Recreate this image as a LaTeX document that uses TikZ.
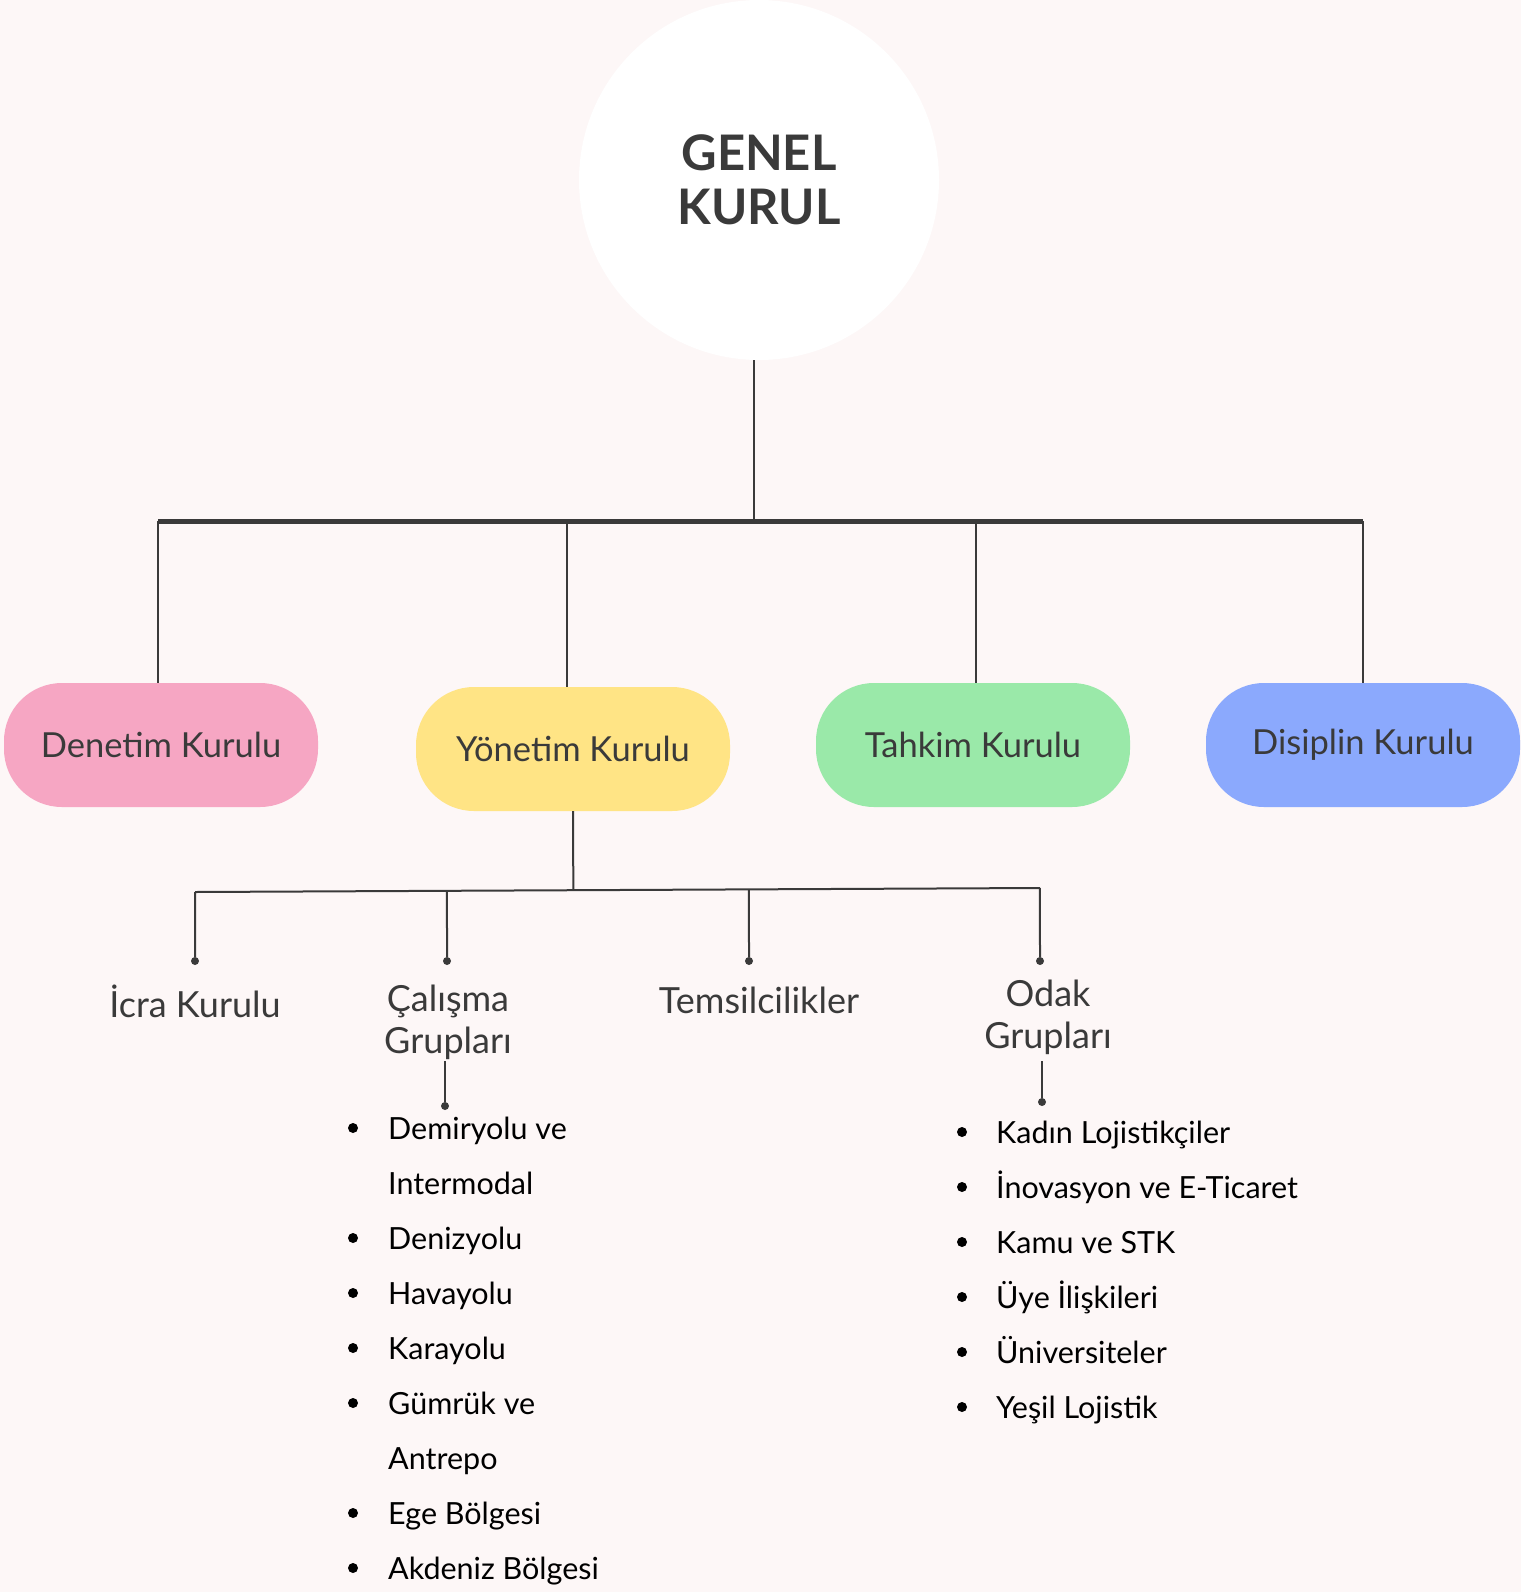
\documentclass[tikz,border=0pt]{standalone}
\usepackage{fontspec}
\setmainfont{Lato}
\usetikzlibrary{calc}

\definecolor{paper}{HTML}{FDF7F7}
\definecolor{ink}{HTML}{3A3A3A}
\definecolor{pinkkurul}{HTML}{F6A6C3}
\definecolor{yellowkurul}{HTML}{FFE485}
\definecolor{greenkurul}{HTML}{9AE9A9}
\definecolor{bluekurul}{HTML}{8BA9FD}

\begin{document}
\begin{tikzpicture}[x=1pt,y=-1pt,
     kurul/.style={rectangle,rounded corners=58pt,minimum width=314pt,minimum height=124pt,
        text=ink,font=\fontsize{34.5}{40}\selectfont},
     altkurul/.style={text=ink,align=center,anchor=base,font=\fontsize{36}{42}\selectfont},
     madde/.style={anchor=base west,inner sep=0pt,text=black,font=\fontsize{30.5}{34}\selectfont},
     hat/.style={ink,line width=2pt},
     uc/.style={circle,fill=ink,inner sep=0pt,minimum size=8pt}
     ]
%Background of the page
\fill[paper] (0,0) rectangle (1521,1592);
\useasboundingbox (0,0) rectangle (1521,1592);

%Top circle
\node[circle,fill=white,minimum size=360pt,text=ink,align=center,
      font=\fontsize{49}{54}\selectfont\bfseries] (genel) at (759,180) {GENEL\\KURUL};

%Main bar
\def \bary{521}
\coordinate (barL) at (158,\bary);
\coordinate (barR) at (1363,\bary);
\draw[ink,line width=5pt] (barL) -- (barR);
\draw[hat] ($(genel.south)+(-5,0)$) -- ($(genel.south |- barL)+(-5,0)$);

%The four boards
\foreach \nm/\x/\y/\dx/\c/\t in {denetim/161/745/158/pinkkurul/Denetim Kurulu,
                                 yonetim/573/749/567/yellowkurul/Yönetim Kurulu,
                                 tahkim/973/745/976/greenkurul/Tahkim Kurulu,
                                 disiplin/1363/745/1363/bluekurul/Disiplin Kurulu}
{
   \node[kurul,fill=\c] (\nm) at (\x,\y) {\t};
   \draw[hat] (\nm.north -| \dx,0) -- (\dx,\bary);
}

%Second level under Yonetim Kurulu
\def \doty{961}
\coordinate (hubL) at (195,892);
\coordinate (hubR) at (1040,888);
\draw[hat] (yonetim.south) -- ($(hubL)!(yonetim.south)!(hubR)$);
\draw[hat] (hubL) -- (hubR);

%label y is the baseline of the last line
\foreach \nm/\dx/\x/\ly/\t in {icra/195/195/1017/İcra Kurulu,
                               calisma/447/448/1053/Çalışma\\Grupları,
                               temsil/749/759/1013/Temsilcilikler,
                               odak/1040/1048/1048/Odak\\Grupları}
{
   \coordinate (\nm top) at ($(hubL)!(\dx,890)!(hubR)$);
   \node[uc] (\nm dot) at (\dx,\doty) {};
   \draw[hat] (\nm top) -- (\nm dot);
   \node[altkurul] (\nm) at (\x,\ly) {\t};
}

%Lists under the groups
\node[uc] (calismadot2) at (445,1106) {};
\draw[hat] (445,1061) -- (calismadot2);
\node[uc] (odakdot2) at (1042,1102) {};
\draw[hat] (1042,1061) -- (odakdot2);

\def \sep{55}
\foreach [count=\i] \t/\b in {Demiryolu ve/1,Intermodal/0,Denizyolu/1,Havayolu/1,Karayolu/1,
                              Gümrük ve/1,Antrepo/0,Ege Bölgesi/1,Akdeniz Bölgesi/1}
{
   \pgfmathsetmacro{\yy}{1128+(\i-1)*\sep}
   \node[madde] (sol\i) at (388,\yy+11) {\t};
   \ifnum\b=1 \fill (353,\yy) circle (5pt); \fi
}

\foreach [count=\i] \t in {Kadın Lojistikçiler,İnovasyon ve E-Ticaret,Kamu ve STK,
                           Üye İlişkileri,Üniversiteler,Yeşil Lojistik}
{
   \pgfmathsetmacro{\yy}{1132+(\i-1)*\sep}
   \node[madde] (sag\i) at (996,\yy+11) {\t};
   \fill (962,\yy) circle (5pt);
}
\end{tikzpicture}
\end{document}
